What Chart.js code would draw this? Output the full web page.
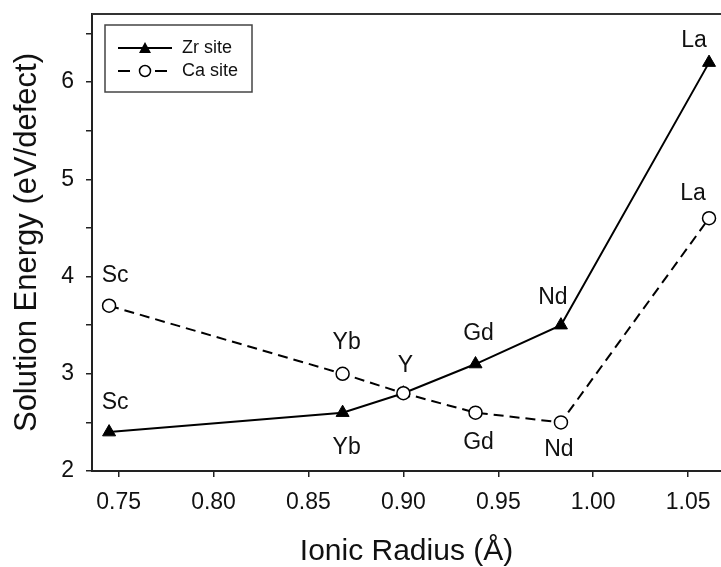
<!DOCTYPE html>
<html>
<head>
<meta charset="utf-8">
<script src="https://cdn.jsdelivr.net/npm/chart.js@4.4.1/dist/chart.umd.min.js"></script>
<style>
  html, body { margin: 0; padding: 0; background: #fff; }
  #wrap { width: 721px; height: 567px; }
</style>
</head>
<body>
<div id="wrap"><canvas id="chart"></canvas></div>
<script>
const ionicRadius = [0.745, 0.868, 0.900, 0.938, 0.983, 1.061];
const zrLabels = ["Sc", "Yb", "Y", "Gd", "Nd", "La"];
const caLabels = ["Sc", "Yb", "", "Gd", "Nd", "La"];
const zrSite = [2.4, 2.6, 2.8, 3.1, 3.5, 6.2];
const caSite = [3.7, 3.0, 2.8, 2.6, 2.5, 4.6];
const xTicks = [0.75, 0.80, 0.85, 0.90, 0.95, 1.00, 1.05];
const yTicks = [2, 2.5, 3, 3.5, 4, 4.5, 5, 5.5, 6, 6.5];

// label offsets (px) from each point
const zrOffsets = [[6, -29], [4, 35], [2, -28], [3, -30], [-8, -27], [-15, -22]];
const caOffsets = [[6, -30], [4, -31], [0, 0], [3, 30], [-2, 27], [-16, -25]];

Chart.defaults.font.family = "'Liberation Sans', Arial, sans-serif";
Chart.defaults.color = "#111";

function toPoints(ys) {
  return ionicRadius.map(function (x, i) { return { x: x, y: ys[i] }; });
}

const overlay = {
  id: "overlay",
  afterDraw: function (chart) {
    const ctx = chart.ctx;
    const area = chart.chartArea;
    const xs = chart.scales.x, ys = chart.scales.y;
    ctx.save();

    // top frame line
    ctx.strokeStyle = "#333";
    ctx.lineWidth = 2;
    ctx.beginPath();
    ctx.moveTo(area.left, area.top);
    ctx.lineTo(area.right, area.top);
    ctx.stroke();

    // point labels
    ctx.fillStyle = "#111";
    ctx.font = "23px 'Liberation Sans', Arial, sans-serif";
    ctx.textAlign = "center";
    ctx.textBaseline = "middle";
    function labels(vals, names, offs) {
      vals.forEach(function (v, i) {
        if (!names[i]) return;
        const px = xs.getPixelForValue(ionicRadius[i]);
        const py = ys.getPixelForValue(v);
        ctx.fillText(names[i], px + offs[i][0], py + offs[i][1]);
      });
    }
    labels(zrSite, zrLabels, zrOffsets);
    labels(caSite, caLabels, caOffsets);

    // legend
    const lx = area.left + 13, ly = area.top + 11;
    ctx.strokeStyle = "#444";
    ctx.lineWidth = 1.5;
    ctx.strokeRect(lx, ly, 147, 67);

    ctx.strokeStyle = "#000";
    ctx.lineWidth = 2;
    ctx.beginPath();
    ctx.moveTo(lx + 13, ly + 23);
    ctx.lineTo(lx + 67, ly + 23);
    ctx.stroke();
    ctx.fillStyle = "#000";
    ctx.beginPath();
    ctx.moveTo(lx + 40, ly + 17);
    ctx.lineTo(lx + 46, ly + 28);
    ctx.lineTo(lx + 34, ly + 28);
    ctx.closePath();
    ctx.fill();

    ctx.beginPath();
    ctx.moveTo(lx + 13, ly + 46);
    ctx.lineTo(lx + 25, ly + 46);
    ctx.moveTo(lx + 50, ly + 46);
    ctx.lineTo(lx + 62, ly + 46);
    ctx.stroke();
    ctx.lineWidth = 1.5;
    ctx.fillStyle = "#fff";
    ctx.beginPath();
    ctx.arc(lx + 40, ly + 46, 5.5, 0, Math.PI * 2);
    ctx.fill();
    ctx.stroke();

    ctx.fillStyle = "#111";
    ctx.font = "18px 'Liberation Sans', Arial, sans-serif";
    ctx.textAlign = "left";
    ctx.fillText("Zr site", lx + 77, ly + 23);
    ctx.fillText("Ca site", lx + 77, ly + 46);
    ctx.restore();
  }
};

const ctx = document.getElementById("chart").getContext("2d");
new Chart(ctx, {
  type: "line",
  data: {
    datasets: [
      {
        label: "Zr site",
        data: toPoints(zrSite),
        order: 1,
        borderColor: "#000",
        backgroundColor: "#000",
        borderWidth: 2,
        pointStyle: "triangle",
        pointRadius: 7.5,
        pointBorderWidth: 1,
        pointBackgroundColor: "#000",
        tension: 0,
        clip: false
      },
      {
        label: "Ca site",
        data: toPoints(caSite),
        order: 0,
        borderColor: "#000",
        backgroundColor: "#fff",
        borderWidth: 2,
        borderDash: [10, 6],
        pointStyle: "circle",
        pointRadius: 6.5,
        pointBorderWidth: 1.5,
        pointBackgroundColor: "#fff",
        tension: 0,
        clip: false
      }
    ]
  },
  options: {
    responsive: true,
    maintainAspectRatio: false,
    animation: false,
    layout: { autoPadding: false, padding: { top: 14, right: 0, left: 0, bottom: 0 } },
    plugins: { legend: { display: false }, tooltip: { enabled: false } },
    scales: {
      x: {
        type: "linear",
        min: 0.736,
        max: 1.0673,
        afterBuildTicks: function (scale) {
          scale.ticks = xTicks.map(function (v) { return { value: v }; });
        },
        afterFit: function (scale) {
          scale.height = 96;
          scale.paddingLeft = 0;
          scale.paddingRight = 0;
        },
        ticks: {
          padding: 12,
          font: { size: 23 },
          color: "#111",
          callback: function (v) { return Number(v).toFixed(2); }
        },
        grid: { drawOnChartArea: false, drawTicks: true, tickLength: 6, color: "#222", lineWidth: 1.5 },
        border: { display: true, color: "#222", width: 2 },
        title: {
          display: true,
          text: "Ionic Radius (Å)",
          font: { size: 30, lineHeight: 1 },
          color: "#111",
          padding: { top: 0, bottom: 0 }
        }
      },
      y: {
        type: "linear",
        min: 2,
        max: 6.7,
        afterBuildTicks: function (scale) {
          scale.ticks = yTicks.map(function (v) { return { value: v }; });
        },
        afterFit: function (scale) {
          scale.width = 92;
          scale.paddingTop = 0;
          scale.paddingBottom = 0;
        },
        ticks: {
          padding: 12,
          font: { size: 23 },
          color: "#111",
          callback: function (v) { return Number.isInteger(v) ? v : ""; }
        },
        grid: { drawOnChartArea: false, drawTicks: true, tickLength: 6, color: "#222", lineWidth: 1.5 },
        border: { display: true, color: "#222", width: 2 },
        title: {
          display: true,
          text: "Solution Energy (eV/defect)",
          font: { size: 31, lineHeight: 1 },
          color: "#111",
          padding: { top: 12, bottom: 0 }
        }
      }
    }
  },
  plugins: [overlay]
});
</script>
</body>
</html>
